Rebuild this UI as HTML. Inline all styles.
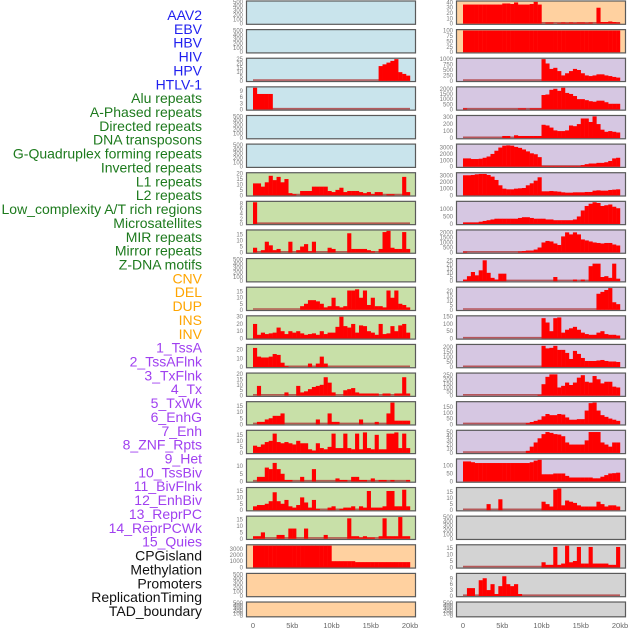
<!DOCTYPE html>
<html><head><meta charset="utf-8">
<style>
html,body{margin:0;padding:0;background:#fff;width:630px;height:630px;overflow:hidden}
svg{display:block;font-family:"Liberation Sans",sans-serif}
</style></head>
<body>
<svg id="chart" width="630" height="630" viewBox="0 0 630 630" xmlns="http://www.w3.org/2000/svg"></svg>
<script>
// ---- data ----
const rowLabels = ["AAV2","EBV","HBV","HIV","HPV","HTLV-1","Alu repeats","A-Phased repeats","Directed repeats","DNA transposons","G-Quadruplex forming repeats","Inverted repeats","L1 repeats","L2 repeats","Low_complexity A/T rich regions","Microsatellites","MIR repeats","Mirror repeats","Z-DNA motifs","CNV","DEL","DUP","INS","INV","1_TssA","2_TssAFlnk","3_TxFlnk","4_Tx","5_TxWk","6_EnhG","7_Enh","8_ZNF_Rpts","9_Het","10_TssBiv","11_BivFlnk","12_EnhBiv","13_ReprPC","14_ReprPCWk","15_Quies","CPGisland","Methylation","Promoters","ReplicationTiming","TAD_boundary"];
const labelGroups = ["virus","virus","virus","virus","virus","virus","repeat","repeat","repeat","repeat","repeat","repeat","repeat","repeat","repeat","repeat","repeat","repeat","repeat","sv","sv","sv","sv","sv","chrom","chrom","chrom","chrom","chrom","chrom","chrom","chrom","chrom","chrom","chrom","chrom","chrom","chrom","chrom","other","other","other","other","other"];
const xTickLabels = ["0","5kb","10kb","15kb","20kb"];
const xTickValues = [0,5,10,15,20];

const E0 = [0,0,0,0,0,0,0,0,0,0,0,0,0,0,0,0,0,0,0,0,0,0,0,0,0,0,0,0,0,0,0,0,0,0,0,0,0,0,0,0];
const L2 = [0,0,0,0,0,0,0,0,0,0,0,0,0,0,0,0,0,0,0,0,0,0,0,0,0,0,0,0,0,0,0,0,17,19,21,23,25,10,8,6];
const L3 = [10.5,7.5,7.5,7.5,7.5,0,0,0,0,0,0,0,0,0,0,0,0,0,0,0,0,0,0,0,0,0,0,0,0,0,0,0,0,0,0,0,0,0,0,0];
const L6 = [11,11,8,12,18,14,17,12,15,2,1,0,4,4,4,8,8,8,8,4,3,5,7,3,4,4,4,3,2,3,1,3,3,0,1,1,0,0,17,3];
const L7 = [8.5,0,0,0,0,0,0,0,0,0,0,0,0,0,0,0,0,0,0,0,0,0,0,0,0,0,0,0,0,0,0,0,0,0,0,0,0,0,0,0];
const L8 = [4,0,2,9,6,2,3,0,0,9,0,2,5,7,1,9,0,0,0,4,3,0,0,0,16,3,3,3,3,2,1,0,3,17,18,4,3,3,17,3];
const L10 = [0,0,0,0,0,0,0,0,0,0,0,0,3,5,8,8,7,5,2,3,10,3,2,3,16,16,17,10,16,4,10,3,3,2,16,10,16,5,4,2];
const L11 = [20,5,8,6,7,8,15,10,6,10,8,10,7,5,6,7,5,10,6,8,8,16,30,17,15,20,8,18,17,10,8,5,20,6,7,17,10,18,20,8];
const L12 = [22,12,11,11,12,15,14,5,1,0,0,0,0,0,4,0,4,12,4,0,0,0,0,0,0,0,0,0,0,0,0,0,0,0,0,0,0,0,0,0];
const L13 = [0,9,0,0,0,0,0,0,3,0,0,9,3,4,6,8,9,10,17,12,3,0,0,5,6,7,3,2,2,2,2,2,0,2,2,0,2,2,17,2];
const L14 = [0,2,2,4,5,7,7,9,0,0,0,0,0,0,0,0,4,0,0,9,2,2,0,0,0,0,0,4,0,0,0,2,0,0,9,18,3,3,3,3];
const L15 = [6,5,7,9,10,16,9,8,9,8,7,10,8,8,3,2,8,4,3,5,16,4,4,16,4,3,16,3,17,4,3,15,3,3,16,16,17,4,16,4];
const L16 = [0,3,3,9,8,12,8,5,1,1,0,0,3,0,0,8,0,0,0,0,0,2,1,1,0,3,3,1,1,0,2,0,1,1,0,1,0,0,0,1];
const L17 = [3,4,4,5,7,14,7,5,8,3,2,4,10,6,2,8,1,0,0,2,3,0,1,2,2,3,0,3,2,15,2,2,2,3,15,15,3,3,16,3];
const L18 = [2,2,5,0,0,0,3,3,0,8,8,0,0,8,0,0,0,0,3,0,0,0,0,0,16,2,2,1,2,1,1,0,2,16,2,2,2,17,2,2];
const L19 = [3500,3500,3500,3500,3500,3500,3500,3500,3500,3500,3500,3500,3500,3500,3500,3500,3500,3500,3500,3500,1000,1000,1000,1000,1000,1000,850,850,850,850,850,850,850,850,850,850,850,850,850,850];
const R0 = [36,36,36,36,36,36,36,36,36,36,38,38,37,40,36,36,36,37,41,36,0,2,2,0,1,2,1,2,1,2,2,1,2,0,30,3,3,4,3,2];
const R1 = [100,100,100,100,100,100,100,100,100,100,100,100,100,100,100,100,100,100,100,100,100,100,100,100,100,100,100,100,100,100,100,100,100,100,100,100,100,100,100,100];
const R2 = [0,0,0,0,0,0,0,0,0,0,0,0,0,0,0,0,0,0,0,0,1000,800,550,600,450,250,350,450,550,500,350,250,220,250,300,300,250,220,180,150];
const R3 = [100,0,0,0,0,0,0,0,0,0,0,0,0,0,100,100,0,100,100,100,1400,1450,1900,2000,1800,2100,1600,1500,1300,1000,1000,900,800,750,850,850,700,550,550,550];
const R4 = [0,0,0,0,0,0,0,0,0,0,30,30,0,40,30,30,30,30,30,30,190,180,150,110,100,100,110,180,170,200,280,280,230,310,200,120,90,100,90,80];
const R5 = [1300,1300,1200,1200,1250,1400,1600,2000,2500,3000,3300,3350,3300,3100,2950,2700,2400,2100,1950,1500,100,100,100,100,100,100,100,100,100,100,250,400,500,500,600,600,700,900,1300,1400];
const R6 = [3000,3000,3050,3150,3200,3200,3050,2800,2300,1500,1000,900,900,1000,1050,1100,1500,1800,2200,2700,600,600,650,600,550,450,400,400,450,450,450,500,500,700,750,700,700,800,850,900];
const R7 = [100,100,100,100,150,200,250,300,350,350,350,350,350,350,400,450,450,400,350,350,350,300,300,250,250,250,250,250,300,500,900,1200,1350,1450,1400,1200,1250,1300,1150,1050];
const R8 = [80,0,0,0,0,0,0,0,0,0,0,0,0,0,100,150,200,200,300,500,1000,1150,1100,900,750,1600,2000,1800,2000,1800,1300,1200,1100,1000,950,900,950,950,800,700];
const R9 = [2,6,11,7,13,25,10,4,2,9,9,0,0,0,0,0,0,0,0,0,0,0,0,5,0,0,0,0,2,0,2,0,18,21,21,5,6,4,21,3];
const R10 = [0,0,0,0,0,0,0,0,0,0,0,0,0,0,0,0,0,0,0,0,0,0,0,0,0,0,0,0,0,0,0,0,0,0,17,19,21,23,8,6];
const R11 = [0,0,0,0,0,0,0,0,0,0,0,0,0,0,0,0,0,0,0,0,140,110,50,140,145,40,60,70,80,60,40,30,25,25,40,50,30,25,25,20];
const R12 = [0,0,0,0,0,0,0,0,0,0,0,0,0,0,0,0,0,0,0,0,210,185,190,210,170,170,140,80,160,130,90,60,60,60,65,70,60,55,55,50];
const R13 = [0,0,0,0,0,0,0,0,0,0,0,0,0,0,0,0,0,0,0,10,140,230,260,260,100,120,160,130,160,220,250,170,160,240,200,150,170,170,110,100];
const R14 = [0,0,0,0,0,0,0,0,0,0,0,0,0,0,0,0,10,20,30,40,70,90,80,80,90,85,60,40,40,45,45,120,185,190,120,80,65,50,40,30];
const R15 = [0,0,0,0,0,0,0,0,0,0,0,0,0,0,0,0,5,15,25,35,45,50,48,45,44,40,25,20,20,20,20,30,50,50,50,25,20,15,25,25];
const R16 = [125,125,120,115,115,115,115,115,115,115,115,115,115,115,115,115,115,120,130,135,45,45,45,50,50,50,35,25,25,25,25,25,25,20,20,30,40,50,52,55];
const R17 = [0,0,0,0,0,0,5,0,0,9,0,0,0,0,0,0,0,0,0,0,7,5,3,17,18,4,8,7,6,4,3,3,3,3,7,5,3,4,4,3];
const R19 = [0,0,0,0,0,0,0,0,0,0,0,0,0,0,0,0,0,0,0,0,4,2,2,16,2,3,17,4,5,16,3,3,16,3,3,3,3,2,2,16];
const R20 = [0,4,4,0,8,9,3,6,1,5,10,6,5,6,1,0,0,0,0,0,0,0,0,0,0,0,0,0,0,0,0,0,0,0,0,0,0,0,0,0];

const T500 = [0,100,200,300,400,500];
const panels = [
 // left column
 {col:0,bg:"blue",vals:E0,ymax:500,ticks:T500},
 {col:0,bg:"blue",vals:E0,ymax:500,ticks:T500},
 {col:0,bg:"blue",vals:L2,ymax:25,ticks:[0,5,10,15,20,25]},
 {col:0,bg:"blue",vals:L3,ymax:10.5,ticks:[0,3,6,9]},
 {col:0,bg:"blue",vals:E0,ymax:500,ticks:T500},
 {col:0,bg:"blue",vals:E0,ymax:500,ticks:T500},
 {col:0,bg:"green",vals:L6,ymax:20,ticks:[0,5,10,15,20]},
 {col:0,bg:"green",vals:L7,ymax:8.5,ticks:[0,2,4,6,8]},
 {col:0,bg:"green",vals:L8,ymax:18,ticks:[0,5,10,15]},
 {col:0,bg:"green",vals:E0,ymax:500,ticks:T500},
 {col:0,bg:"green",vals:L10,ymax:18,ticks:[0,5,10,15]},
 {col:0,bg:"green",vals:L11,ymax:30,ticks:[0,10,20,30]},
 {col:0,bg:"green",vals:L12,ymax:25,ticks:[0,10,20]},
 {col:0,bg:"green",vals:L13,ymax:20,ticks:[0,5,10,15,20]},
 {col:0,bg:"green",vals:L14,ymax:18,ticks:[0,5,10,15]},
 {col:0,bg:"green",vals:L15,ymax:18,ticks:[0,5,10,15]},
 {col:0,bg:"green",vals:L16,ymax:14,ticks:[0,5,10]},
 {col:0,bg:"green",vals:L17,ymax:17,ticks:[0,5,10,15]},
 {col:0,bg:"green",vals:L18,ymax:17,ticks:[0,5,10,15]},
 {col:0,bg:"orange",vals:L19,ymax:3500,ticks:[0,1000,2000,3000]},
 {col:0,bg:"orange",vals:E0,ymax:500,ticks:T500},
 {col:0,bg:"orange",vals:E0,ymax:500,ticks:T500},
 // right column
 {col:1,bg:"orange",vals:R0,ymax:41,ticks:[0,10,20,30,40]},
 {col:1,bg:"orange",vals:R1,ymax:100,ticks:[0,25,50,75,100]},
 {col:1,bg:"purple",vals:R2,ymax:1000,ticks:[0,250,500,750,1000]},
 {col:1,bg:"purple",vals:R3,ymax:2100,ticks:[0,500,1000,1500,2000]},
 {col:1,bg:"purple",vals:R4,ymax:310,ticks:[0,100,200,300]},
 {col:1,bg:"purple",vals:R5,ymax:3400,ticks:[0,1000,2000,3000]},
 {col:1,bg:"purple",vals:R6,ymax:3250,ticks:[0,1000,2000,3000]},
 {col:1,bg:"purple",vals:R7,ymax:1450,ticks:[0,500,1000]},
 {col:1,bg:"purple",vals:R8,ymax:2150,ticks:[0,500,1000,1500,2000]},
 {col:1,bg:"purple",vals:R9,ymax:26,ticks:[0,5,10,15,20,25]},
 {col:1,bg:"purple",vals:R10,ymax:23,ticks:[0,5,10,15,20]},
 {col:1,bg:"purple",vals:R11,ymax:150,ticks:[0,50,100,150]},
 {col:1,bg:"purple",vals:R12,ymax:215,ticks:[0,50,100,150,200]},
 {col:1,bg:"purple",vals:R13,ymax:265,ticks:[0,50,100,150,200,250]},
 {col:1,bg:"purple",vals:R14,ymax:190,ticks:[0,50,100,150]},
 {col:1,bg:"purple",vals:R15,ymax:52,ticks:[0,10,20,30,40,50]},
 {col:1,bg:"purple",vals:R16,ymax:135,ticks:[0,50,100]},
 {col:1,bg:"gray",vals:R17,ymax:18,ticks:[0,5,10,15]},
 {col:1,bg:"gray",vals:E0,ymax:500,ticks:T500},
 {col:1,bg:"gray",vals:R19,ymax:17,ticks:[0,5,10,15]},
 {col:1,bg:"gray",vals:R20,ymax:11,ticks:[0,3,6,9]},
 {col:1,bg:"gray",vals:E0,ymax:500,ticks:T500}
];

// ---- styling / layout ----
const bgColors = {blue:"#c9e4ec",green:"#c8e0a8",orange:"#ffd1a0",purple:"#d6c7e2",gray:"#d3d3d3"};
const labelColors = {virus:"#1f1fef",repeat:"#1d7a1d",sv:"#ffa500",chrom:"#a040f0",other:"#111111"};
const cols = [{px:246,pw:170,x0:253,x1:410},{px:456,pw:170,x0:463,x1:620}];
const NS = "http://www.w3.org/2000/svg";
const svg = document.getElementById("chart");
function mk(tag, attrs, parent){
  const e = document.createElementNS(NS, tag);
  for (const k in attrs) e.setAttribute(k, attrs[k]);
  (parent||svg).appendChild(e);
  return e;
}
function rowTop(r){ return 0.5 + 28.62*r; }
function rowH(r){ return r===21 ? 15.8 : 24.3; }

// row labels
const labelG = mk("g", {});


rowLabels.forEach((t,i)=>{
  const el = mk("text", {x:202, y:(20 + i*13.86).toFixed(2), "text-anchor":"end", "font-size":"14", fill:labelColors[labelGroups[i]]}, labelG);
  el.textContent = t;
  
  
});

// panels
panels.forEach((p,idx)=>{
  const r = p.col===0 ? idx : idx-22;
  const c = cols[p.col];
  const top = rowTop(r), h = rowH(r);
  const base = top + h - 1.2;
  const plotH = h - 2.6;
  const yS = v => base - (v/p.ymax)*plotH;
  const xS = kb => c.x0 + (kb/20)*(c.x1-c.x0);
  const g = mk("g", {});
  
  
  const bg = mk("rect", {x:c.px+0.5, y:top+0.5, width:c.pw-1, height:h-1, fill:bgColors[p.bg], stroke:"#5a5a5a", "stroke-width":"1.2"}, g);
  
  
  const n = p.vals.length;
  const has = p.vals.some(v=>v>0);
  if (has){
    const bl = mk("line", {x1:xS(0), x2:xS(20), y1:base-0.8, y2:base-0.8, stroke:"#b03a3a", "stroke-width":"1.6", opacity:"0.8"}, g);
    
    
  }
  const bw = (xS(20)-xS(0))/n;
  p.vals.forEach((v,i)=>{
    if (v<=0) return;
    const y = yS(v);
    const b = mk("rect", {x:(xS(i*20/n)).toFixed(2), y:y.toFixed(2), width:(bw+0.2).toFixed(2), height:(base-y).toFixed(2), fill:"#ff0000"}, g);
    
    
  });
  p.ticks.forEach(t=>{
    const tl = mk("text", {x:c.px-3, y:(yS(t)+2).toFixed(2), "text-anchor":"end", "font-size":"6", fill:"#7a7a7a"}, g);
    tl.textContent = String(t);
    
    
  });
});

// x axes
cols.forEach((c,ci)=>{
  xTickValues.forEach((v,i)=>{
    const x = c.x0 + (v/20)*(c.x1-c.x0);
    const t = mk("text", {x:x, y:628, "text-anchor":"middle", "font-size":"7.5", fill:"#666"});
    t.textContent = xTickLabels[i];
    
    
  });
});
</script>
</body></html>
